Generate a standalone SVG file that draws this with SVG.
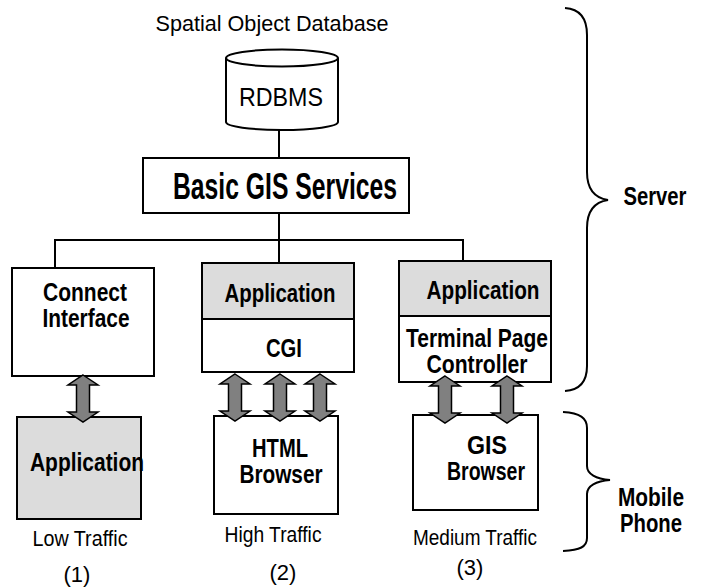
<svg xmlns="http://www.w3.org/2000/svg" width="704" height="588" viewBox="0 0 704 588">
<style>
.bx{fill:#fff;stroke:#000;stroke-width:2}
.gr{fill:#dcdcdc;stroke:#000;stroke-width:2}
.ln{fill:none;stroke:#000;stroke-width:2}
.br{fill:none;stroke:#000;stroke-width:2}
.t{font-family:"Liberation Sans",Arial,sans-serif;font-size:22px;fill:#000;text-anchor:middle}
.b{font-family:"Liberation Sans",Arial,sans-serif;font-size:25px;font-weight:bold;fill:#000;text-anchor:middle}
.ar{fill:#808080;stroke:#000;stroke-width:1.5;stroke-linejoin:miter}
</style>
<defs>
<path id="dbl" d="M0,0 L15,10 L6.5,10 L6.5,37 L15,37 L0,47 L-15,37 L-6.5,37 L-6.5,10 L-15,10 Z"/>
</defs>
<rect width="704" height="588" fill="#fff"/>

<g id="title">
<text class="t" x="272" y="31" textLength="233" lengthAdjust="spacingAndGlyphs">Spatial Object Database</text>
</g>

<g id="rdbms">
<path class="bx" d="M226,58 L226,122 A56,8 0 0 0 338,122 L338,58"/>
<ellipse class="bx" cx="282" cy="58" rx="56" ry="8.5"/>
<text class="t" x="281" y="106" style="font-size:26px" textLength="84" lengthAdjust="spacingAndGlyphs">RDBMS</text>
</g>

<g id="basic-gis">
<rect class="bx" x="143" y="158" width="266" height="55"/>
<text class="b" x="285" y="199" style="font-size:36px" textLength="224" lengthAdjust="spacingAndGlyphs">Basic GIS Services</text>
</g>

<g id="connect-interface">
<rect class="bx" x="12" y="268" width="142" height="108"/>
<text class="b" x="85" y="301" textLength="84" lengthAdjust="spacingAndGlyphs">Connect</text>
<text class="b" x="86" y="327" textLength="87" lengthAdjust="spacingAndGlyphs">Interface</text>
</g>

<g id="app-cgi">
<rect class="bx" x="202" y="263" width="152" height="109"/>
<rect class="gr" x="202" y="263" width="152" height="56"/>
<text class="b" x="280" y="302" textLength="111" lengthAdjust="spacingAndGlyphs">Application</text>
<text class="b" x="284" y="357" textLength="36" lengthAdjust="spacingAndGlyphs">CGI</text>
</g>

<g id="app-tpc">
<rect class="bx" x="399" y="261" width="152" height="121"/>
<rect class="gr" x="399" y="261" width="152" height="55"/>
<text class="b" x="483" y="299" textLength="113" lengthAdjust="spacingAndGlyphs">Application</text>
<text class="b" x="477" y="347" textLength="142" lengthAdjust="spacingAndGlyphs">Terminal Page</text>
<text class="b" x="477" y="373" textLength="101" lengthAdjust="spacingAndGlyphs">Controller</text>
</g>

<g id="mobile-app">
<rect class="gr" x="17" y="417" width="124" height="102"/>
<text class="b" x="87" y="471" textLength="114" lengthAdjust="spacingAndGlyphs">Application</text>
</g>

<g id="html-browser">
<rect class="bx" x="214" y="416" width="124" height="98"/>
<text class="b" x="280" y="457" textLength="56" lengthAdjust="spacingAndGlyphs">HTML</text>
<text class="b" x="281" y="483" textLength="83" lengthAdjust="spacingAndGlyphs">Browser</text>
</g>

<g id="gis-browser">
<rect class="bx" x="413" y="415" width="125" height="95"/>
<text class="b" x="487" y="454" textLength="40" lengthAdjust="spacingAndGlyphs">GIS</text>
<text class="b" x="486" y="480" textLength="78" lengthAdjust="spacingAndGlyphs">Browser</text>
</g>

<g id="labels">
<text class="t" x="80" y="546" textLength="95" lengthAdjust="spacingAndGlyphs">Low Traffic</text>
<text class="t" x="77" y="582">(1)</text>
<text class="t" x="273" y="542" textLength="97" lengthAdjust="spacingAndGlyphs">High Traffic</text>
<text class="t" x="283" y="580">(2)</text>
<text class="t" x="475" y="545" textLength="124" lengthAdjust="spacingAndGlyphs">Medium Traffic</text>
<text class="t" x="470" y="575">(3)</text>
</g>

<g id="server-brace">
<path class="br" d="M565,8 C580,9 587,18 587,35 L587,172 C587,190 595,198 608,200 C595,202 587,210 587,228 L587,366 C587,382 580,390 565,391"/>
<text class="b" x="655" y="205" textLength="63" lengthAdjust="spacingAndGlyphs">Server</text>
</g>

<g id="mobile-brace">
<path class="br" d="M563,412 C580,413 587,418 587,428 L587,466 C587,474 596,479 610,480 C596,481 587,486 587,494 L587,538 C587,547 580,550 563,551"/>
<text class="b" x="651" y="506" textLength="66" lengthAdjust="spacingAndGlyphs">Mobile</text>
<text class="b" x="651" y="532" textLength="62" lengthAdjust="spacingAndGlyphs">Phone</text>
</g>

<g id="connectors">
<path class="ln" d="M279,130 L279,158"/>
<path class="ln" d="M279,213 L279,263"/>
<path class="ln" d="M55,268 L55,240 L463,240 L463,261"/>
<use href="#dbl" class="ar" transform="translate(83,375)"/>
<use href="#dbl" class="ar" transform="translate(235,374)"/>
<use href="#dbl" class="ar" transform="translate(280,374)"/>
<use href="#dbl" class="ar" transform="translate(320,374)"/>
<use href="#dbl" class="ar" transform="translate(445,376)"/>
<use href="#dbl" class="ar" transform="translate(507,376)"/>
</g>
</svg>
